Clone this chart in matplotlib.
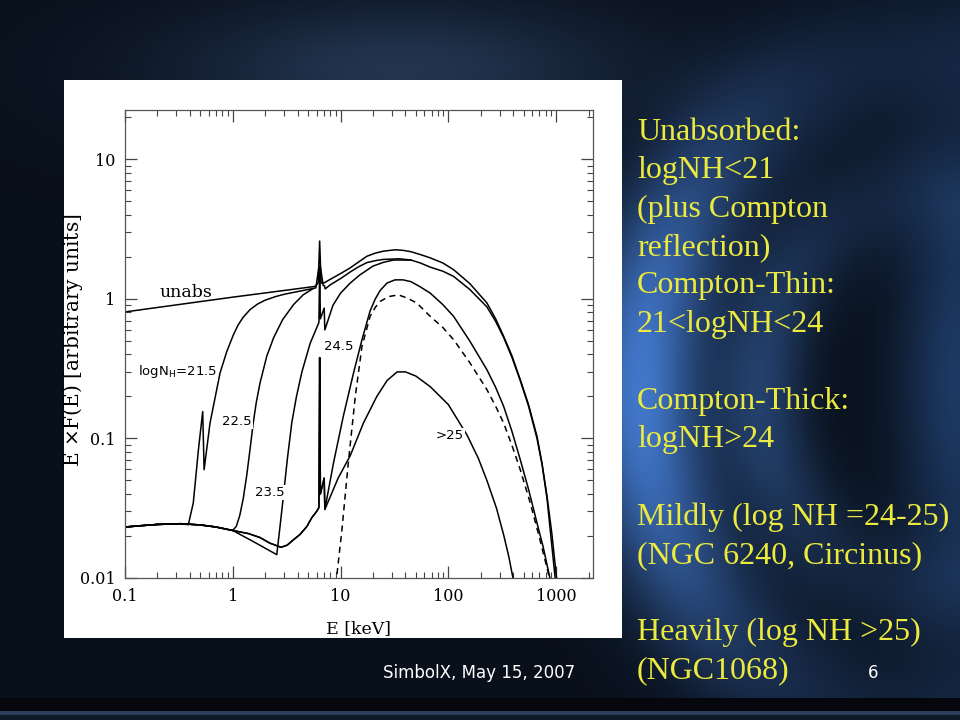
import numpy as np
import matplotlib.pyplot as plt
from matplotlib.patches import Rectangle

# ---- spectra: E [keV] vs E*F(E) [arbitrary units] ----
# scattered component shared by the absorbed curves at low energy
scat_e = [0.1, 0.15, 0.2, 0.33, 0.5, 0.7, 1.0]
scat_f = [0.0232, 0.0238, 0.0242, 0.0245, 0.0240, 0.0232, 0.0219]

unabs_e = [0.1, 1.0, 3.0, 5.8, 6.2, 6.4, 6.6, 7.0, 8.0, 10, 12.3, 14.7, 17.5, 21, 25,
           32, 38, 45, 55, 68, 89, 112, 158, 228, 275, 326, 390, 465, 556,
           665, 741, 824, 912, 1010, 1060]
unabs_f = [0.807, 1.03, 1.15, 1.23, 1.3, 2.6, 1.3, 1.3, 1.38, 1.52, 1.67, 1.84, 2.02, 2.13, 2.2,
           2.25, 2.23, 2.18, 2.08, 1.97, 1.81, 1.62, 1.29, 0.936, 0.72, 0.54, 0.39, 0.264, 0.174,
           0.1035, 0.066, 0.0385, 0.021, 0.0100, 0.007]

nh215_e = scat_e[:4] + [0.387, 0.43, 0.48, 0.526, 0.542, 0.615, 0.762, 0.88, 1.01, 1.12,
                        1.25, 1.45, 1.7, 2.0, 2.5, 3.0, 4.5, 5.9, 6.3, 6.5,
                        6.9, 7.1, 7.2, 8, 10, 12.3, 14.7, 17.5, 21, 25,
                        35, 45, 55, 68, 89, 112, 158, 228, 275, 326,
                        390, 465, 556, 665, 741, 824, 900, 980, 1020]
nh215_f = scat_f[:4] + [0.0241, 0.0345, 0.083, 0.156, 0.0597, 0.129, 0.295, 0.42, 0.55, 0.65,
                        0.74, 0.84, 0.92, 0.98, 1.04, 1.08, 1.15, 1.2, 1.7, 1.7,
                        1.25, 1.24, 1.18, 1.26, 1.40, 1.56, 1.70, 1.82, 1.88, 1.92,
                        1.94, 1.90, 1.81, 1.69, 1.58, 1.45, 1.17, 0.877, 0.69, 0.53,
                        0.38, 0.26, 0.17, 0.10, 0.065, 0.037, 0.019, 0.010, 0.007]

nh225_e = scat_e + [1.08, 1.16, 1.25, 1.35, 1.45, 1.55, 1.65, 1.79, 2.07, 2.4, 2.9, 3.66, 4.5, 5.5]
nh225_f = scat_f + [0.0235, 0.028, 0.037, 0.055, 0.085, 0.13, 0.18, 0.25, 0.39, 0.53, 0.71, 0.91,
                    1.07, 1.18]

nh235_e = scat_e + [1.6, 2.56, 2.7, 2.95, 3.2, 3.53, 3.9, 4.38, 5.22, 6.0,
                    6.3, 6.4, 6.5, 7.05, 7.15, 8.5, 10, 12.3, 15, 20,
                    25, 31, 45]
nh235_f = scat_f + [0.018, 0.0147, 0.021, 0.0385, 0.07, 0.13, 0.2, 0.30, 0.48, 0.62,
                    0.68, 1.7, 0.72, 0.86, 0.60, 0.9, 1.1, 1.3, 1.48, 1.72,
                    1.83, 1.9, 1.9]

# Compton-thick curves share the part below the iron edge
thick_e = scat_e + [1.4, 1.79, 2.2, 2.8, 3.2, 3.66, 4.2, 4.87, 5.4, 6.0,
                    6.3, 6.4, 6.5, 7.05, 7.15]
thick_f = scat_f + [0.0208, 0.0195, 0.0178, 0.0166, 0.0172, 0.0188, 0.0205, 0.0234, 0.027, 0.030,
                    0.032, 0.38, 0.040, 0.052, 0.031]

nh245_e = thick_e + [8.6, 10.6, 13.2, 15.8, 18.8, 21, 23.3, 27, 32, 38,
                     45, 55, 68, 89, 112, 158, 228, 275, 326, 390,
                     465, 556, 665, 760, 883, 930]
nh245_f = thick_f + [0.0667, 0.144, 0.295, 0.51, 0.82, 1.0, 1.15, 1.3, 1.37, 1.37,
                     1.33, 1.22, 1.1, 0.91, 0.75, 0.50, 0.311, 0.232, 0.17, 0.112,
                     0.0705, 0.043, 0.0248, 0.0166, 0.0097, 0.007]

nh25_e = thick_e + [8.0, 9.5, 12.3, 16.3, 21.7, 27, 33.5, 40, 50, 68,
                    100, 149, 190, 228, 280, 326, 365, 398, 420]
nh25_f = thick_f + [0.038, 0.052, 0.0753, 0.129, 0.20, 0.26, 0.30, 0.30, 0.28, 0.235,
                    0.175, 0.106, 0.072, 0.05, 0.0316, 0.0204, 0.0141, 0.0100, 0.007]

# dashed curve
refl_e = [9.0, 9.25, 10.3, 11.8, 13.7, 15.8, 18.8, 21, 23.3, 28,
          34.5, 42, 51, 68, 89, 112, 158, 228, 275, 326,
          390, 465, 576, 700, 883, 930]
refl_f = [0.0075, 0.0105, 0.0222, 0.0667, 0.20, 0.457, 0.75, 0.87, 0.96, 1.04,
          1.07, 1.01, 0.935, 0.75, 0.624, 0.51, 0.35, 0.224, 0.17, 0.129,
          0.089, 0.0597, 0.0345, 0.0195, 0.0095, 0.007]

# curve labels: (text, E, flux, ha, fontsize)
curve_labels = [
    ('unabs', 0.368, 1.11, 'center', 12.5),
    (r'logN$_\mathregular{H}$=21.5', 0.132, 0.30, 'left', 9.5),
    ('22.5', 1.10, 0.132, 'center', 9.5),
    ('23.5', 2.22, 0.041, 'center', 9.5),
    ('24.5', 9.7, 0.455, 'center', 9.5),
    ('>25', 104, 0.105, 'center', 9.5),
]

slide_lines = [
    ('Unabsorbed:', 130), ('logNH<21', 168), ('(plus Compton', 207), ('reflection)', 245),
    ('Compton-Thin:', 283), ('21<logNH<24', 322),
    ('Compton-Thick:', 399), ('logNH>24', 437),
    ('Mildly (log NH =24-25)', 515), ('(NGC 6240, Circinus)', 553),
    ('Heavily (log NH >25)', 630), ('(NGC1068)', 668),
]

W, H = 960, 720
fig = plt.figure(figsize=(9.6, 7.2), dpi=100)

# slide background
yy, xx = np.mgrid[0:H, 0:W].astype(float)
img = np.ones((H, W, 3)) * np.array([0.035, 0.065, 0.11])
r = np.sqrt((xx - 930) ** 2 + ((yy - 390) / 1.25) ** 2)
ring = np.exp(-((r - 290) / 60) ** 2) * np.exp(-((yy - 390) / 260) ** 2)
img += ring[..., None] * np.array([0.22, 0.40, 0.68])
ring2 = np.exp(-((r - 170) / 45) ** 2) * np.exp(-((yy - 390) / 200) ** 2)
img += ring2[..., None] * np.array([0.10, 0.18, 0.30])
edge = np.exp(-((xx - 960) / 60) ** 2) * np.exp(-((yy - 380) / 220) ** 2)
img += edge[..., None] * np.array([0.08, 0.16, 0.28])
cloud = np.exp(-((xx - 400) / 230) ** 2 - ((yy - 70) / 70) ** 2)
img += cloud[..., None] * np.array([0.10, 0.14, 0.20])
img[698:, :] = np.array([0.02, 0.03, 0.05])
img[711:715, :] = np.array([0.17, 0.25, 0.36])
img[715:, :] = np.array([0.06, 0.10, 0.16])
img = np.clip(img, 0, 1)
bg = fig.add_axes([0, 0, 1, 1], zorder=-10)
bg.imshow(img, aspect='auto', interpolation='bilinear')
bg.axis('off')

# white panel with the plot
fig.patches.append(Rectangle((64 / W, 1 - 638 / H), 558 / W, 558 / H,
                             transform=fig.transFigure, facecolor='white',
                             edgecolor='none', zorder=-5))

ax = fig.add_axes([125 / W, 1 - 578 / H, 468 / W, 468 / H])
ax.set_xscale('log')
ax.set_yscale('log')

lw = 1.1
ax.plot(unabs_e, unabs_f, color='black', lw=lw)
ax.plot(nh215_e, nh215_f, color='black', lw=lw)
ax.plot(nh225_e, nh225_f, color='black', lw=lw)
ax.plot(nh235_e, nh235_f, color='black', lw=lw)
ax.plot(nh245_e, nh245_f, color='black', lw=lw)
ax.plot(nh25_e, nh25_f, color='black', lw=lw)
ax.plot(refl_e, refl_f, color='black', lw=lw, dashes=(4, 3))

for txt, xe, yf, ha, fs in curve_labels:
    if txt == 'unabs':
        ax.text(xe, yf, txt, ha=ha, va='center', fontsize=fs, family='DejaVu Serif')
    else:
        ax.text(xe, yf, txt, ha=ha, va='center', fontsize=fs, family='DejaVu Sans',
                bbox=dict(facecolor='white', edgecolor='none', pad=0.5))

ax.set_xlim(0.1, 2200)
ax.set_ylim(0.01, 22.6)
ax.set_xticks([0.1, 1, 10, 100, 1000])
ax.set_xticklabels(['0.1', '1', '10', '100', '1000'])
ax.set_yticks([0.01, 0.1, 1, 10])
ax.set_yticklabels(['0.01', '0.1', '1', '10'])
ax.tick_params(which='both', direction='in', top=True, right=True, color='#444444')
ax.tick_params(which='major', length=8.5, width=0.9, labelsize=11.5, pad=7)
ax.tick_params(which='minor', length=4.3, width=0.8)
for lab in ax.get_xticklabels() + ax.get_yticklabels():
    lab.set_family('DejaVu Serif')
for sp in ax.spines.values():
    sp.set_color('#555555')
    sp.set_linewidth(0.9)

ax.set_xlabel('E [keV]', family='DejaVu Serif', fontsize=12.5)
ax.set_ylabel(r'E $\times$F(E) [arbitrary units]', family='DejaVu Serif', fontsize=14.5)
ax.xaxis.set_label_coords(0.498, -0.09)
ax.yaxis.set_label_coords(-0.086, 0.509)

# slide text
for txt, yc in slide_lines:
    fig.text(637 / W, 1 - (yc + 10) / H, txt, ha='left', va='baseline',
             fontsize=23, family='Liberation Serif', color='#ecea3e')

fig.text(479 / W, 1 - 673 / H, 'SimbolX, May 15, 2007', ha='center', va='center',
         fontsize=12, family=['Liberation Sans Narrow', 'DejaVu Sans'], color='white')
fig.text(873 / W, 1 - 673 / H, '6', ha='center', va='center',
         fontsize=12, family='DejaVu Sans', color='white')

fig.savefig('out.png', dpi=100)
